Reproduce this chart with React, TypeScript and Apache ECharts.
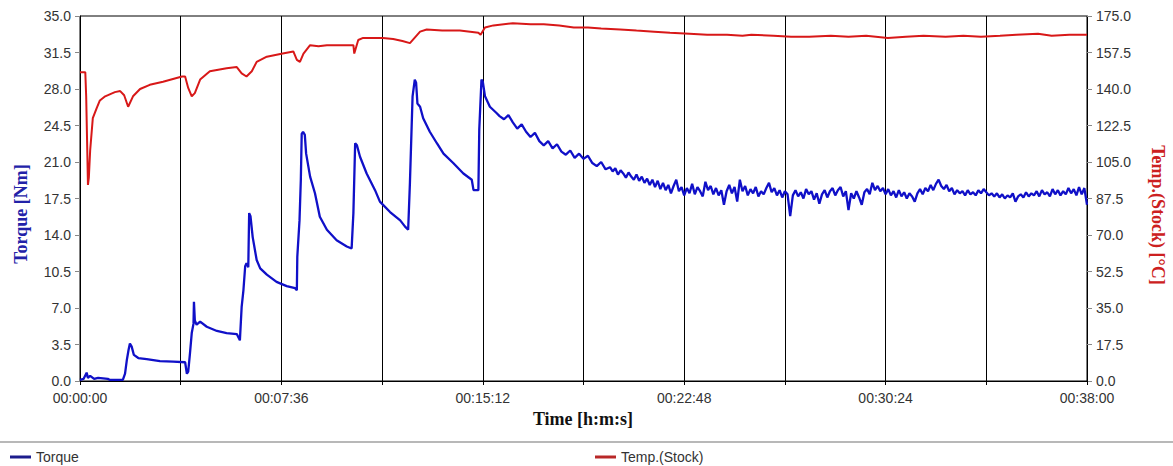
import React, { useEffect, useRef } from "react";
import * as echarts from "echarts";

// Time in seconds, torque in Nm (left axis) — run-in phase
const torqueTime = [
  0, 8, 15, 18, 23, 32, 41, 63, 68, 97, 102, 106, 110, 113, 117, 122, 132, 151, 181, 211,
  238, 242, 245, 249, 253, 257, 258, 260, 264, 272, 287, 310, 332, 355, 362, 366, 370, 374, 377, 381,
  383, 386, 391, 400, 408, 423, 445, 468, 487, 491, 492, 497, 500, 502, 505, 509, 512, 521, 532, 543,
  559, 581, 604, 615, 619, 623, 627, 634, 649, 668, 679, 702, 725, 736, 743, 747, 753, 758, 761, 764,
  770, 777, 792, 808, 823, 845, 868, 887, 891, 902, 904, 909, 912, 917, 928, 943, 950, 960, 970, 980,
  990, 1000, 1010, 1020, 1030, 1040, 1050, 1060, 1070, 1080, 1090, 1100, 1110, 1120, 1130, 1140, 1150, 1160, 1170, 1180,
  1190
];
const torqueValue = [
  0.1, 0.2, 0.8, 0.3, 0.5, 0.2, 0.3, 0.2, 0.1, 0.1, 0.7, 2.0, 3.0, 3.6, 3.3, 2.5, 2.2, 2.1, 1.9, 1.85,
  1.8, 0.7, 0.9, 2.65, 4.6, 5.5, 7.6, 5.8, 5.4, 5.7, 5.2, 4.8, 4.6, 4.5, 3.9, 7.1, 8.7, 11.0, 11.3, 10.9,
  16.1, 15.8, 13.8, 11.6, 10.8, 10.2, 9.5, 9.1, 8.9, 8.7, 11.9, 15.4, 19.3, 23.7, 23.9, 23.6, 21.8, 19.6, 18.0, 15.75,
  14.5, 13.5, 12.9, 12.7, 16.1, 22.8, 22.6, 21.5, 19.9, 18.3, 17.2, 16.2, 15.4, 14.8, 14.5, 19.0, 27.3, 28.9, 28.6, 26.6,
  26.3, 25.2, 23.9, 22.8, 21.8, 20.9, 19.9, 19.3, 18.3, 18.3, 24.1, 28.9, 28.7, 27.3, 26.3, 25.7, 25.4, 25.1, 25.5, 24.8,
  24.2, 24.6, 23.9, 23.4, 23.8, 23.0, 22.6, 23.0, 22.3, 22.7, 22.0, 21.7, 22.1, 21.4, 21.8, 21.3, 21.6, 20.9, 20.6, 21.0,
  20.3
];

// Torque after the last addition: [time s, Nm]
const torqueTail: [number, number][] = [
  [1200, 20.5], [1206, 20.1], [1212, 20.4], [1218, 19.8], [1224, 20.2], [1230, 19.9], [1236, 19.5], [1242, 20.0],
  [1248, 19.6], [1254, 19.3], [1260, 19.8], [1266, 19.2], [1272, 19.6], [1278, 19.0], [1284, 19.4], [1290, 18.8],
  [1296, 19.3], [1302, 18.6], [1308, 19.2], [1314, 18.4], [1320, 19.0], [1326, 18.3], [1332, 18.8], [1338, 18.0],
  [1344, 18.7], [1350, 19.3], [1356, 18.2], [1362, 18.6], [1368, 17.8], [1374, 18.5], [1380, 18.0], [1386, 18.9],
  [1392, 17.9], [1398, 18.6], [1404, 18.2], [1410, 17.7], [1416, 19.1], [1422, 18.3], [1428, 18.7], [1434, 17.9],
  [1440, 18.5], [1446, 17.8], [1452, 18.3], [1458, 16.9], [1464, 18.2], [1470, 18.8], [1476, 18.0], [1482, 18.6],
  [1488, 17.2], [1494, 19.3], [1500, 18.2], [1506, 18.7], [1512, 17.8], [1518, 18.4], [1524, 18.0], [1530, 18.6],
  [1536, 17.7], [1542, 18.2], [1548, 17.9], [1554, 18.5], [1560, 19.0], [1566, 18.1], [1572, 18.5], [1578, 17.8],
  [1584, 18.3], [1590, 17.6], [1596, 18.2], [1602, 17.9], [1608, 15.8], [1614, 17.8], [1620, 18.3], [1626, 17.7],
  [1632, 18.1], [1638, 17.5], [1644, 18.4], [1650, 17.9], [1656, 18.2], [1662, 17.4], [1668, 18.0], [1674, 17.0],
  [1680, 17.9], [1686, 18.3], [1692, 17.6], [1698, 18.2], [1704, 18.5], [1710, 17.8], [1716, 18.3], [1722, 18.6],
  [1728, 17.7], [1734, 18.2], [1740, 16.4], [1746, 18.0], [1752, 17.5], [1758, 18.2], [1764, 17.6], [1770, 16.9],
  [1776, 18.1], [1782, 18.4], [1788, 17.9], [1794, 19.0], [1800, 18.3], [1806, 18.7], [1812, 18.2], [1818, 18.5],
  [1824, 17.9], [1830, 18.4], [1836, 17.8], [1842, 18.2], [1848, 17.6], [1854, 18.3], [1860, 17.7], [1866, 18.1],
  [1872, 17.5], [1878, 18.0], [1884, 17.7], [1890, 17.2], [1896, 18.0], [1902, 18.4], [1908, 17.9], [1914, 18.5],
  [1920, 18.2], [1926, 18.8], [1932, 18.3], [1938, 18.9], [1944, 19.3], [1950, 18.7], [1956, 18.4], [1962, 18.8],
  [1968, 18.2], [1974, 18.5], [1980, 17.9], [1986, 18.3], [1992, 18.0], [1998, 18.2], [2004, 17.8], [2010, 18.3],
  [2016, 17.9], [2022, 18.1], [2028, 17.8], [2034, 18.3], [2040, 18.0], [2046, 18.4], [2052, 18.1], [2058, 17.8],
  [2064, 18.0], [2070, 17.7], [2076, 18.0], [2082, 17.6], [2088, 17.9], [2094, 17.5], [2100, 17.8], [2106, 17.6],
  [2112, 18.0], [2118, 17.2], [2124, 17.7], [2130, 17.9], [2136, 17.6], [2142, 18.1], [2148, 17.7], [2154, 18.0],
  [2160, 17.8], [2166, 18.2], [2172, 17.7], [2178, 18.3], [2184, 17.9], [2190, 18.1], [2196, 17.7], [2202, 18.4],
  [2208, 17.9], [2214, 18.3], [2220, 17.8], [2226, 18.2], [2232, 17.9], [2238, 18.5], [2244, 18.0], [2250, 18.4],
  [2256, 17.8], [2262, 18.6], [2268, 17.9], [2274, 18.5], [2280, 16.9]
];

// Time in seconds, stock temperature in °C (right axis)
const tempTime = [
  0, 12, 14, 16, 18, 20, 23, 29, 38, 45, 57, 79, 91, 100, 109, 120, 136, 158, 188, 231,
  238, 245, 253, 260, 272, 294, 332, 355, 366, 377, 389, 400, 423, 459, 483, 491, 498, 506, 521, 540,
  559, 590, 619, 621, 630, 641, 686, 709, 730, 747, 770, 785, 820, 860, 902, 907, 917, 936, 980, 1020,
  1050, 1085, 1118, 1150, 1180, 1223, 1260, 1300, 1336, 1380, 1420, 1465, 1500, 1520, 1570, 1610, 1651, 1700, 1740, 1780,
  1829, 1870, 1910, 1960, 2000, 2040, 2083, 2120, 2169, 2200, 2240, 2280
];
const tempValue = [
  148, 148, 136.5, 115.5, 94, 97.5, 110.5, 126, 131, 134.5, 136.5, 138.5, 139, 137, 131.5, 136.5, 140, 142, 143.5, 146,
  146, 140.5, 136.5, 138, 144.5, 148.5, 150, 150.5, 147.5, 146, 148.5, 153, 155.5, 157, 158, 154, 153, 157, 161, 160.5,
  161, 161, 161, 157, 163.5, 164.5, 164.5, 164, 163, 162, 167.5, 168.5, 168, 168, 167, 166, 169.5, 170.5, 171.5, 171,
  171, 170.5, 169.5, 169.5, 169, 168.5, 168, 167.5, 167, 166.5, 166, 166, 165.5, 166, 165.5, 165, 165, 165.5, 165, 165.5,
  164.5, 165, 165.5, 165, 165.5, 165, 165.5, 166, 166.5, 165.5, 166, 166
];

const xTickLabels = ["00:00:00", "00:07:36", "00:15:12", "00:22:48", "00:30:24", "00:38:00"];
const seriesNames = ["Torque", "Temp.(Stock)"];

export default function App() {
  const ref = useRef<HTMLDivElement>(null);
  useEffect(() => {
    if (!ref.current) return;
    const chart = echarts.init(ref.current, null, { renderer: "svg" });
    const tickFont = { fontFamily: "Liberation Sans", fontSize: 14, color: "#333" };
    const torqueData = torqueTime.map((t, i) => [t, torqueValue[i]]).concat(torqueTail);
    const legendCommon = {
      icon: "rect",
      itemWidth: 21,
      itemHeight: 3,
      itemGap: 0,
      padding: 0,
      top: 450,
      textStyle: { fontFamily: "Liberation Sans", fontSize: 14, color: "#333" },
    };
    chart.setOption({
      animation: false,
      backgroundColor: "#fff",
      grid: {
        left: 80,
        right: 86,
        top: 16,
        bottom: 85,
        show: true,
        borderColor: "#000",
        borderWidth: 1,
      },
      xAxis: {
        type: "value",
        min: 0,
        max: 2280,
        interval: 228,
        axisLine: { show: true, lineStyle: { color: "#000", width: 1 } },
        axisTick: { show: true, length: 4, lineStyle: { color: "#000" } },
        splitLine: { show: true, lineStyle: { color: "#000", width: 1 } },
        axisLabel: {
          ...tickFont,
          margin: 10,
          formatter: (v: number) => (v % 456 === 0 ? xTickLabels[v / 456] : ""),
        },
      },
      yAxis: [
        {
          type: "value",
          min: 0,
          max: 35,
          interval: 3.5,
          position: "left",
          axisLine: { show: true, lineStyle: { color: "#000" } },
          axisTick: { show: true, length: 5, lineStyle: { color: "#888" } },
          splitLine: { show: false },
          axisLabel: { ...tickFont, margin: 9, formatter: (v: number) => v.toFixed(1) },
        },
        {
          type: "value",
          min: 0,
          max: 175,
          interval: 17.5,
          position: "right",
          axisLine: { show: true, lineStyle: { color: "#000" } },
          axisTick: { show: true, length: 5, lineStyle: { color: "#888" } },
          splitLine: { show: false },
          axisLabel: { ...tickFont, margin: 9, formatter: (v: number) => v.toFixed(1) },
        },
      ],
      legend: [
        {
          ...legendCommon,
          data: [{ name: seriesNames[0], itemStyle: { color: "#1c1c8c" } }],
          left: 10,
        },
        {
          ...legendCommon,
          data: [{ name: seriesNames[1], itemStyle: { color: "#b82828" } }],
          left: 595,
        },
      ],
      graphic: [
        {
          type: "line",
          shape: { x1: 0, y1: 442, x2: 1173, y2: 442 },
          style: { stroke: "#b8b8b8", lineWidth: 2 },
          silent: true,
        },
        {
          type: "text",
          x: 21,
          y: 214,
          rotation: Math.PI / 2,
          style: {
            text: "Torque [Nm]",
            font: 'bold 18px "Liberation Serif"',
            fill: "#2222a8",
            align: "center",
            verticalAlign: "middle",
          },
        },
        {
          type: "text",
          x: 1158,
          y: 215,
          rotation: -Math.PI / 2,
          style: {
            text: "Temp.(Stock) [°C]",
            font: 'bold 18px "Liberation Serif"',
            fill: "#cc2020",
            align: "center",
            verticalAlign: "middle",
          },
        },
        {
          type: "text",
          x: 583,
          y: 419,
          style: {
            text: "Time [h:m:s]",
            font: 'bold 18px "Liberation Serif"',
            fill: "#111",
            align: "center",
            verticalAlign: "middle",
          },
        },
      ],
      series: [
        {
          name: seriesNames[0],
          type: "line",
          yAxisIndex: 0,
          showSymbol: false,
          symbol: "none",
          color: "#1010c8",
          lineStyle: { color: "#1010c8", width: 2.3 },
          data: torqueData,
          z: 3,
        },
        {
          name: seriesNames[1],
          type: "line",
          yAxisIndex: 1,
          showSymbol: false,
          symbol: "none",
          color: "#d81818",
          lineStyle: { color: "#d81818", width: 2 },
          data: tempTime.map((t, i) => [t, tempValue[i]]),
          z: 2,
        },
      ],
    });
    return () => chart.dispose();
  }, []);
  return (
    <div
      ref={ref}
      style={{ position: "absolute", left: 0, top: 0, width: 1173, height: 466, background: "#fff" }}
    />
  );
}
